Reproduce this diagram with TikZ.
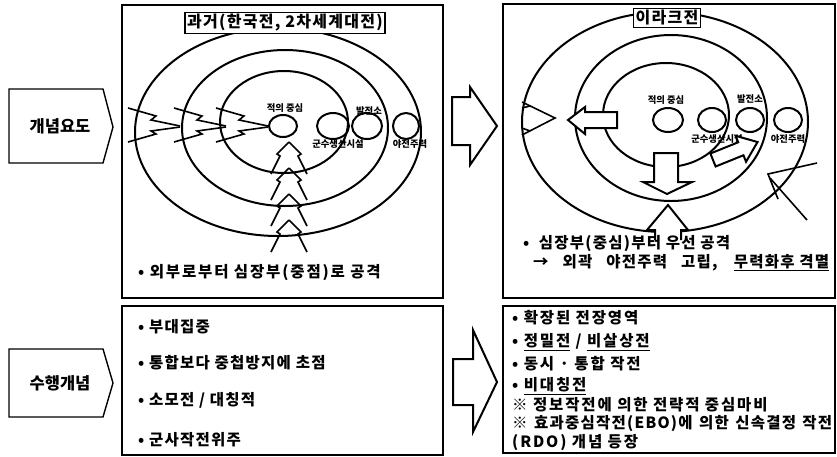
\documentclass[tikz,border=0pt]{standalone}
\usepackage{fontspec}
\newfontfamily\kr{Noto Sans CJK KR}[LetterSpace=8]
\newfontfamily\krw{Noto Sans CJK KR}[LetterSpace=12]
\newfontfamily\krs{Noto Sans CJK KR}
\usetikzlibrary{shapes.geometric}
\tikzset{
  panel/.style={draw=black, line width=1.4pt},
  ring/.style={draw=black, line width=2pt},
  dot/.style={draw=black, line width=2pt},
  hollow/.style={draw=black, line width=2pt, fill=white, line join=miter},
  thin/.style={draw=black, line width=1.6pt, line join=miter},
  big/.style={font=\krs\bfseries\fontsize{16.5}{18}\selectfont},
  txt/.style={font=\kr\bfseries\fontsize{15.5}{17}\selectfont, anchor=west, inner sep=0pt},
  txtw/.style={font=\krw\bfseries\fontsize{15.5}{17}\selectfont, anchor=west, inner sep=0pt},
  small/.style={font=\krs\bfseries\fontsize{9.3}{10}\selectfont, inner sep=0pt},
  titlebox/.style={draw=black, line width=1.6pt, fill=white, font=\kr\bfseries\fontsize{16}{17}\selectfont, inner sep=2pt}
}
\begin{document}
\begin{tikzpicture}[x=1pt,y=-1pt]
\useasboundingbox (0,0) rectangle (837,456);
\fill[white] (0,0) rectangle (837,456);

% left label boxes
\draw[panel] (9,89) -- (103,89) -- (113,127) -- (103,163) -- (9,163) -- cycle;
\node[big] (lab1) at (60,126) {개념요도};
\draw[panel] (9,349) -- (103,349) -- (113,383) -- (103,417) -- (9,417) -- cycle;
\node[big] (lab2) at (60,383) {수행개념};

% panels
\draw[panel] (122,5) rectangle (443,298);
\draw[panel] (503,4) rectangle (835,298);
\draw[panel] (122,306) rectangle (443,455);
\draw[panel] (503,306) rectangle (835,453);

% ===== left top panel =====
\draw[ring] (278,132) ellipse [x radius=143, y radius=104];
\draw[ring] (285,128) ellipse [x radius=103, y radius=78];
\draw[ring] (284,122) ellipse [x radius=64, y radius=51];
\draw[dot] (283,126) ellipse [x radius=14, y radius=11];
\draw[dot] (333,126) ellipse [x radius=16, y radius=13];
\draw[dot] (367,126) ellipse [x radius=15, y radius=13];
\draw[dot] (406,126) ellipse [x radius=13, y radius=13];
\node[small] (l1) at (285,108) {적의 중심};
\node[small] (l2) at (338,144) {군수생산시설};
\node[small] (l3) at (369,111) {발전소};
\node[small] (l4) at (410,144) {야전주력};
\node[titlebox] (t1) at (285,23) {과거(한국전, 2차세계대전)};

% lightning arrows from the left
\foreach \t in {180,226,268}{
  \draw[thin] (\t-52,108) -- (\t-24,116) -- (\t-29,120) -- (\t,126);
  \draw[thin] (\t-52,142) -- (\t-24,134) -- (\t-29,131) -- (\t,127);
}
% lightning arrows from below
\foreach \t in {142,168,194,220}{
  \draw[thin] (271,\t+32) -- (280,\t+14) -- (277,\t+12) -- (289,\t);
  \draw[thin] (307,\t+32) -- (298,\t+14) -- (301,\t+12) -- (289,\t);
}
\node[txtw] (b1) at (138,273) {• 외부로부터 심장부(중점)로 공격};

% big hollow arrow (top)
\draw[hollow] (452,97) -- (470,97) -- (470,87) -- (497,126) -- (470,165) -- (470,145) -- (452,145) -- cycle;

% ===== right top panel =====
\draw[ring] (665,122) ellipse [x radius=143, y radius=110];
\draw[ring] (671,118) ellipse [x radius=96, y radius=83];
\draw[ring] (666,115) ellipse [x radius=63, y radius=52];
\draw[dot] (668,120) ellipse [x radius=15, y radius=12];
\draw[dot] (712,120) ellipse [x radius=14, y radius=12];
\draw[dot] (750,120) ellipse [x radius=14, y radius=12];
\draw[dot] (788,120) ellipse [x radius=14, y radius=12];
\node[small] (r1) at (666,100) {적의 중심};
\node[small] (r2) at (717,139) {군수생산시설};
\node[small] (r3) at (750,99) {발전소};
\node[small] (r4) at (788,139) {야전주력};
\node[titlebox] (t2) at (667,18) {이라크전};

% outward hollow arrows
\draw[hollow] (617,112) -- (585,112) -- (585,107) -- (568,120) -- (585,134) -- (585,128) -- (617,128) -- cycle;
\draw[hollow] (654,153) -- (678,153) -- (678,182) -- (692,182) -- (667,194) -- (643,182) -- (654,182) -- cycle;
\begin{scope}[shift={(713,160)}, rotate=22]
\draw[hollow] (0,-7) -- (30,-7) -- (30,-14) -- (48,0) -- (30,14) -- (30,7) -- (0,7) -- cycle;
\end{scope}
% arrow at outer ring (left)
\draw[thin] (522,102) -- (555,118) -- (522,135);
\draw[thin] (522,108) -- (530,106);
\draw[thin] (522,128) -- (530,131);
% arrow from below
\draw[hollow] (655,240) -- (655,230) -- (647,230) -- (668,205) -- (688,230) -- (681,230) -- (681,240);
% line arrow from lower right
\draw[thin] (817,163) -- (768,174) -- (778,199);
\draw[thin] (807,220) -- (770,178);

\node[txt] (c1) at (523,244) {•~ 심장부(중심)부터 우선 공격};
\node[txt] (c2) at (533,263) {\makebox[296pt][s]{→ 외곽 야전주력 고립, \underline{무력화후 격멸}}};

% big hollow arrow (bottom)
\draw[hollow] (453,359) -- (473,359) -- (473,330) -- (497,382) -- (473,432) -- (473,405) -- (453,405) -- cycle;

% ===== bottom left panel =====
\node[txt] (d1) at (138,327) {• 부대집중};
\node[txt] (d2) at (138,363) {• 통합보다 중첩방지에 초점};
\node[txt] (d3) at (138,400) {• 소모전 / 대칭적};
\node[txt] (d4) at (138,440) {• 군사작전위주};

% ===== bottom right panel =====
\node[txtw] (e1) at (512,318) {• 확장된 전장영역};
\node[txtw] (e2) at (512,342) {• \underline{정밀전} / \underline{비살상전}};
\node[txtw] (e3) at (512,364) {• 동시 · 통합 작전};
\node[txtw] (e4) at (512,386) {• \underline{비대칭전}};
\node[txtw] (e5) at (512,405) {※ 정보작전에 의한 전략적 중심마비};
\node[txt] (e6) at (512,424) {\makebox[320pt][s]{※ 효과중심작전(EBO)에 의한 신속결정 작전}};
\node[txtw] (e7) at (512,443) {(RDO) 개념 등장};
\end{tikzpicture}
\end{document}
